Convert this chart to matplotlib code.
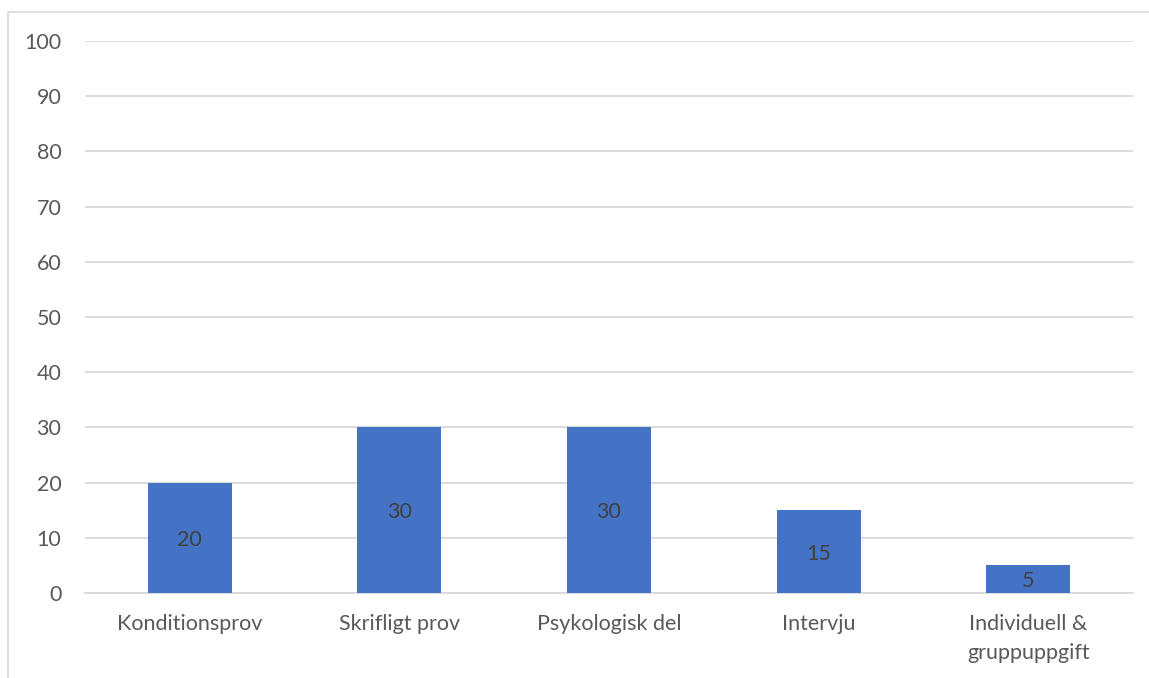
import matplotlib.pyplot as plt
from matplotlib.patches import Rectangle

categories = ["Konditionsprov", "Skrifligt prov", "Psykologisk del", "Intervju",
              "Individuell &\ngruppuppgift"]
values = [20, 30, 30, 15, 5]
yticks = [0, 10, 20, 30, 40, 50, 60, 70, 80, 90, 100]

BAR_COLOR = "#4472C4"
GRID_COLOR = "#D9D9D9"
TEXT_COLOR = "#595959"
FS = 15.5

plt.rcParams["font.family"] = ["Lato", "DejaVu Sans"]

W, H = 1149, 678
fig = plt.figure(figsize=(W / 100, H / 100), dpi=100, facecolor="white")

# chart-area border (runs off the right/bottom edges like the screenshot)
fig.add_artist(Rectangle((8 / W, -0.05), 1.2, 1 - 12 / H + 0.05,
                         transform=fig.transFigure, fill=False,
                         edgecolor=GRID_COLOR, linewidth=1.2))

ax = fig.add_axes([85 / W, (H - 593) / H, (1133 - 85) / W, (593 - 41) / H])
x = range(len(categories))
bars = ax.bar(x, values, width=0.4, color=BAR_COLOR, zorder=3)

for b, v in zip(bars, values):
    ax.text(b.get_x() + b.get_width() / 2, v / 2, str(v), ha="center",
            va="center_baseline", fontsize=FS, color="#404040", zorder=4)

ax.set_xlim(-0.5, len(categories) - 0.5)
ax.set_ylim(0, 100)
ax.set_yticks(yticks)
ax.set_xticks(list(x))
ax.set_xticklabels(categories, linespacing=1.6)
ax.tick_params(axis="both", length=0, labelsize=FS, labelcolor=TEXT_COLOR)
ax.tick_params(axis="y", pad=17)
ax.tick_params(axis="x", pad=15)
ax.grid(axis="y", color=GRID_COLOR, linewidth=1.3, zorder=0)
for side in ["top", "right", "left"]:
    ax.spines[side].set_visible(False)
ax.spines["bottom"].set_color(GRID_COLOR)
ax.spines["bottom"].set_linewidth(1.3)

fig.savefig("out.png", dpi=100, facecolor="white")
